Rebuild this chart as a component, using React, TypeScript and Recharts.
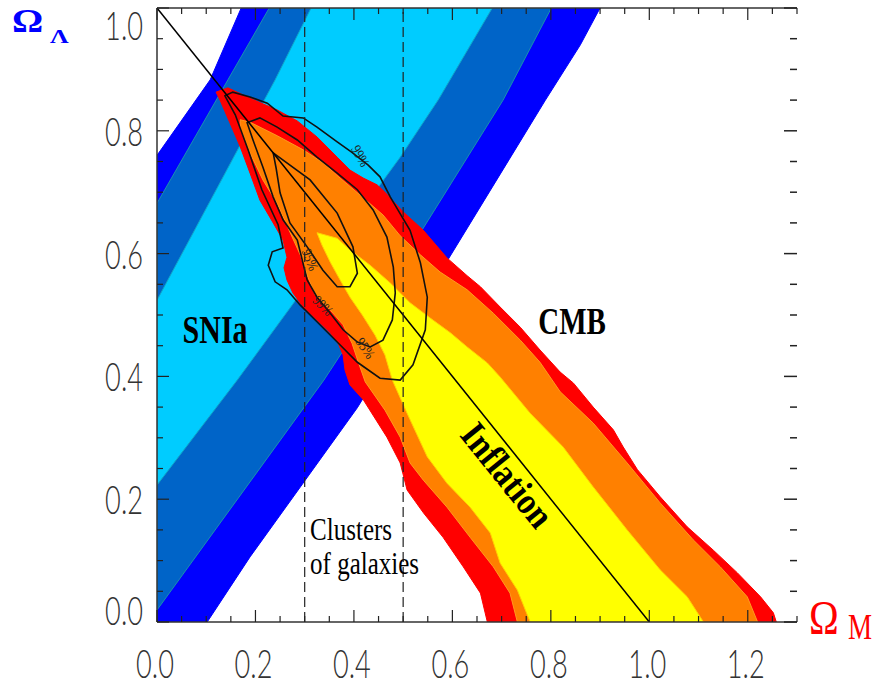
import React from 'react';
import { ScatterChart, Scatter, XAxis, YAxis } from 'recharts';

type P = [number, number];

// ---- SNIa confidence bands (Omega_M, Omega_Lambda) ----
const sniaOuter: P[] = [
  [0.171, 1.0], [0.108, 0.883], [0, 0.76], [0, 0], [0.102, 0], [0.189, 0.106],
  [0.407, 0.349], [0.591, 0.59], [0.789, 0.85], [0.86, 0.94], [0.9, 1.0],
];
const sniaMiddle: P[] = [
  [0.228, 1.0], [0.144, 0.883], [0, 0.682], [0, 0.0195], [0.339, 0.394],
  [0.535, 0.634], [0.703, 0.85], [0.801, 1.0],
];
const sniaInner: P[] = [
  [0.313, 1.0], [0.24, 0.883], [0, 0.524], [0, 0.223], [0.163, 0.394],
  [0.494, 0.757], [0.571, 0.85], [0.681, 1.0],
];

// ---- CMB confidence regions ----
const cmbOuter: P[] = [
  [0.12, 0.863], [0.144, 0.87], [0.189, 0.853], [0.244, 0.834], [0.285, 0.816],
  [0.325, 0.79], [0.366, 0.757], [0.392, 0.736], [0.419, 0.723], [0.447, 0.712],
  [0.463, 0.7], [0.5, 0.668], [0.541, 0.638], [0.589, 0.593], [0.63, 0.564],
  [0.657, 0.546], [0.697, 0.513], [0.738, 0.48], [0.778, 0.443], [0.819, 0.407],
  [0.846, 0.389], [0.886, 0.35], [0.927, 0.313], [0.947, 0.285], [0.976, 0.248],
  [1.022, 0.204], [1.077, 0.155], [1.13, 0.117], [1.179, 0.08], [1.226, 0.041],
  [1.252, 0.015], [1.258, 0], [0.671, 0], [0.657, 0.047], [0.622, 0.09],
  [0.581, 0.138], [0.541, 0.178], [0.508, 0.215], [0.494, 0.259], [0.467, 0.301],
  [0.419, 0.362], [0.392, 0.386], [0.382, 0.41], [0.378, 0.435], [0.368, 0.454],
  [0.352, 0.471], [0.325, 0.492], [0.297, 0.513], [0.276, 0.536], [0.264, 0.557],
  [0.258, 0.577], [0.264, 0.594], [0.256, 0.622], [0.236, 0.65], [0.209, 0.687],
  [0.189, 0.731], [0.169, 0.774], [0.148, 0.813], [0.128, 0.85],
];
const cmbMiddle: P[] = [
  [0.169, 0.818], [0.189, 0.814], [0.244, 0.792], [0.297, 0.769], [0.337, 0.748],
  [0.372, 0.723], [0.413, 0.695], [0.459, 0.663], [0.494, 0.629], [0.535, 0.598],
  [0.575, 0.57], [0.63, 0.541], [0.683, 0.503], [0.738, 0.459], [0.778, 0.423],
  [0.819, 0.375], [0.886, 0.324], [0.955, 0.259], [1.022, 0.194], [1.089, 0.134],
  [1.144, 0.09], [1.199, 0.041], [1.22, 0], [0.732, 0], [0.717, 0.047],
  [0.683, 0.09], [0.636, 0.138], [0.589, 0.187], [0.541, 0.231], [0.514, 0.259],
  [0.494, 0.301], [0.463, 0.345], [0.423, 0.391], [0.409, 0.423], [0.396, 0.454],
  [0.378, 0.484], [0.352, 0.508], [0.321, 0.533], [0.305, 0.565], [0.291, 0.598],
  [0.27, 0.635], [0.244, 0.682], [0.215, 0.72], [0.189, 0.764], [0.169, 0.805],
];
const cmbInner: P[] = [
  [0.325, 0.634], [0.366, 0.625], [0.392, 0.606], [0.433, 0.581], [0.474, 0.552],
  [0.514, 0.52], [0.555, 0.495], [0.596, 0.471], [0.63, 0.448], [0.671, 0.422],
  [0.697, 0.399], [0.758, 0.34], [0.825, 0.285], [0.886, 0.22], [0.955, 0.15],
  [1.022, 0.085], [1.077, 0.041], [1.11, 0], [0.758, 0], [0.732, 0.052],
  [0.697, 0.096], [0.677, 0.145], [0.636, 0.187], [0.589, 0.226], [0.549, 0.269],
  [0.508, 0.34], [0.478, 0.394], [0.463, 0.435], [0.443, 0.467], [0.417, 0.5],
  [0.392, 0.529], [0.372, 0.557], [0.352, 0.586], [0.335, 0.614],
];

// ---- combined-likelihood contours ----
const contour99: P[] = [
  [0.138, 0.857], [0.154, 0.863], [0.189, 0.855], [0.224, 0.845], [0.256, 0.824],
  [0.297, 0.821], [0.325, 0.806], [0.366, 0.782], [0.396, 0.765], [0.429, 0.744],
  [0.453, 0.725], [0.474, 0.692], [0.514, 0.638], [0.535, 0.585], [0.549, 0.529],
  [0.545, 0.476], [0.52, 0.419], [0.494, 0.394], [0.453, 0.397], [0.407, 0.423],
  [0.366, 0.456], [0.325, 0.489], [0.291, 0.516], [0.264, 0.541], [0.24, 0.554],
  [0.226, 0.581], [0.234, 0.603], [0.256, 0.609], [0.246, 0.647], [0.213, 0.704],
  [0.185, 0.769], [0.159, 0.826],
];
const contour95: P[] = [
  [0.183, 0.813], [0.209, 0.821], [0.244, 0.806], [0.285, 0.785], [0.325, 0.757],
  [0.366, 0.731], [0.407, 0.704], [0.439, 0.671], [0.467, 0.627], [0.48, 0.578],
  [0.484, 0.536], [0.478, 0.492], [0.459, 0.459], [0.433, 0.448], [0.407, 0.456],
  [0.378, 0.476], [0.352, 0.503], [0.325, 0.529], [0.305, 0.557], [0.285, 0.622],
  [0.256, 0.655], [0.236, 0.692], [0.215, 0.741], [0.195, 0.785],
];
const contour68: P[] = [
  [0.236, 0.764], [0.311, 0.72], [0.366, 0.666], [0.398, 0.611], [0.407, 0.568],
  [0.392, 0.546], [0.366, 0.546], [0.337, 0.573], [0.305, 0.611], [0.27, 0.65],
  [0.25, 0.699], [0.242, 0.739],
];

// ---- reference lines ----
const inflationLine: P[] = [[0, 1], [1, 0]];
const clusterLow: P[] = [[0.3, 0], [0.3, 1]];
const clusterHigh: P[] = [[0.5, 0], [0.5, 1]];

// ---- annotations ----
const annotations = [
  { id: 'snia', text: 'SNIa', x: 0.118, y: 0.476 },
  { id: 'cmb', text: 'CMB', x: 0.843, y: 0.489 },
  { id: 'inflation', text: 'Inflation', x: 0.711, y: 0.239 },
  { id: 'clusters1', text: 'Clusters', x: 0.311, y: 0.134 },
  { id: 'clusters2', text: 'of galaxies', x: 0.311, y: 0.078 },
  { id: 'c99a', text: '99%', x: 0.413, y: 0.759 },
  { id: 'c95a', text: '95%', x: 0.311, y: 0.59 },
  { id: 'c99b', text: '99%', x: 0.337, y: 0.515 },
  { id: 'c95b', text: '95%', x: 0.423, y: 0.446 },
];

// ---- ticks ----
const xTicks = [0, 0.05, 0.1, 0.15, 0.2, 0.25, 0.3, 0.35, 0.4, 0.45, 0.5, 0.55, 0.6, 0.65, 0.7,
  0.75, 0.8, 0.85, 0.9, 0.95, 1.0, 1.05, 1.1, 1.15, 1.2, 1.25, 1.3];
const xMajor = [0, 0.2, 0.4, 0.6, 0.8, 1.0, 1.2];
const xMajorLabels = ['0.0', '0.2', '0.4', '0.6', '0.8', '1.0', '1.2'];
const yTicks = [0, 0.05, 0.1, 0.15, 0.2, 0.25, 0.3, 0.35, 0.4, 0.45, 0.5, 0.55, 0.6, 0.65, 0.7,
  0.75, 0.8, 0.85, 0.9, 0.95, 1.0];
const yMajor = [0, 0.2, 0.4, 0.6, 0.8, 1.0];
const yMajorLabels = ['0.0', '0.2', '0.4', '0.6', '0.8', '1.0'];

const COLORS = {
  snOuter: '#0000ff', snMiddle: '#0064c8', snInner: '#00ccff',
  red: '#ff0000', orange: '#ff8000', yellow: '#ffff00',
};

const SERIF = "'Liberation Serif', 'Times New Roman', serif";
const THIN = "Lato, Roboto, 'DejaVu Sans', sans-serif";

const annStyle: Record<string, { size: number; weight: string; rotate: number; sy: number; anchor: string; dy: string; fill: string }> = {
  snia: { size: 30, weight: 'bold', rotate: 0, sy: 1.3, anchor: 'middle', dy: '0.33em', fill: '#000' },
  cmb: { size: 29, weight: 'bold', rotate: 0, sy: 1.3, anchor: 'middle', dy: '0.33em', fill: '#000' },
  inflation: { size: 33, weight: 'bold', rotate: 51, sy: 1.15, anchor: 'middle', dy: '0.33em', fill: '#000' },
  clusters1: { size: 25, weight: 'normal', rotate: 0, sy: 1.3, anchor: 'start', dy: '0', fill: '#000' },
  clusters2: { size: 25, weight: 'normal', rotate: 0, sy: 1.3, anchor: 'start', dy: '0', fill: '#000' },
  c99a: { size: 12, weight: 'normal', rotate: 60, sy: 1.2, anchor: 'middle', dy: '0.33em', fill: '#222' },
  c95a: { size: 12, weight: 'normal', rotate: 68, sy: 1.2, anchor: 'middle', dy: '0.33em', fill: '#222' },
  c99b: { size: 12, weight: 'normal', rotate: 45, sy: 1.2, anchor: 'middle', dy: '0.33em', fill: '#222' },
  c95b: { size: 12, weight: 'normal', rotate: 55, sy: 1.2, anchor: 'middle', dy: '0.33em', fill: '#222' },
};

const toXY = (pts: P[]) => pts.map(([x, y]) => ({ x, y }));
const majorIndex = (v: number, majors: number[]) => majors.findIndex((m) => Math.abs(m - v) < 1e-6);

const NoDot = () => <g />;

const AnnShape = (props: any) => {
  const { cx, cy, payload } = props;
  const s = annStyle[payload.id];
  return (
    <text
      transform={`translate(${cx},${cy}) rotate(${s.rotate}) scale(1,${s.sy})`}
      textAnchor={s.anchor as any}
      dy={s.dy}
      fontFamily={SERIF}
      fontSize={s.size}
      fontWeight={s.weight as any}
      fill={s.fill}
    >
      {payload.text}
    </text>
  );
};

const TICK_COLOR = '#222';
const LABEL_COLOR = '#333';

const TickLabel = ({ x, y, anchor, children }: any) => (
  <text
    transform={`translate(${x},${y}) scale(0.68,1)`}
    textAnchor={anchor}
    fontFamily={THIN}
    fontWeight={300}
    fontSize={40}
    fill={LABEL_COLOR}
  >
    {children}
  </text>
);

const BottomTick = (p: any) => {
  const { x, y, payload } = p;
  const i = majorIndex(payload.value, xMajor);
  const len = i >= 0 ? 12 : 6;
  return (
    <g>
      <line x1={x} x2={x} y1={y} y2={y - len} stroke={TICK_COLOR} strokeWidth={1.2} />
      {i >= 0 && <TickLabel x={x - 2} y={y + 56} anchor="middle">{xMajorLabels[i]}</TickLabel>}
    </g>
  );
};

const TopTick = (p: any) => {
  const { x, y, payload } = p;
  const i = majorIndex(payload.value, xMajor);
  const len = i >= 0 ? 12 : 6;
  return <line x1={x} x2={x} y1={y} y2={y + len} stroke={TICK_COLOR} strokeWidth={1.2} />;
};

const LeftTick = (p: any) => {
  const { x, y, payload } = p;
  const i = majorIndex(payload.value, yMajor);
  const len = i >= 0 ? 12 : 6;
  const shift = payload.value >= 0.999 ? 17 : payload.value <= 0.001 ? -12 : 0;
  return (
    <g>
      <line x1={x} x2={x + len} y1={y} y2={y} stroke={TICK_COLOR} strokeWidth={1.2} />
      {i >= 0 && <TickLabel x={x - 14} y={y + shift + 15} anchor="end">{yMajorLabels[i]}</TickLabel>}
    </g>
  );
};

const RightTick = (p: any) => {
  const { x, y, payload } = p;
  const i = majorIndex(payload.value, yMajor);
  const len = i >= 0 ? 13 : 7;
  return <line x1={x} x2={x - len} y1={y} y2={y} stroke={TICK_COLOR} strokeWidth={1.5} />;
};

const XTitle = (props: any) => {
  const vb = props.viewBox || { x: 157, y: 622, width: 640 };
  const x0 = vb.x + vb.width;
  const by = vb.y;
  return (
    <g>
      <text transform={`translate(${x0 + 12},${by + 12}) scale(1,1.2)`} fontFamily={SERIF} fontSize={40} fill="#ff0000">Ω</text>
      <text transform={`translate(${x0 + 51},${by + 17}) scale(1,1.3)`} fontFamily={SERIF} fontSize={27} fill="#ff0000">M</text>
    </g>
  );
};

const YTitle = (props: any) => {
  const vb = props.viewBox || { x: 156, y: 8 };
  const x0 = vb.x + (vb.width || 0);
  return (
    <g>
      <text transform={`translate(${x0 - 145},${vb.y + 24}) scale(1,0.88)`} fontFamily={SERIF} fontSize={39} fontWeight="bold" fill="#0000ff">Ω</text>
      <text transform={`translate(${x0 - 107},${vb.y + 35}) scale(1,0.75)`} fontFamily={SERIF} fontSize={26} fontWeight="bold" fill="#0000ff">Λ</text>
    </g>
  );
};

function region(key: string, pts: P[], fill: string, edge?: string) {
  return (
    <Scatter
      key={key}
      name={key}
      data={toXY(pts)}
      fill={fill}
      line={{ fill, stroke: edge || fill, strokeWidth: 1 }}
      lineType="joint"
      lineJointType="linearClosed"
      shape={NoDot}
      isAnimationActive={false}
    />
  );
}

function path(key: string, pts: P[], closed: boolean, stroke: string, width: number, dash?: string) {
  return (
    <Scatter
      key={key}
      name={key}
      data={toXY(pts)}
      fill={stroke}
      line={{ fill: 'none', stroke, strokeWidth: width, strokeDasharray: dash }}
      lineType="joint"
      lineJointType={closed ? 'linearClosed' : 'linear'}
      shape={NoDot}
      isAnimationActive={false}
    />
  );
}

export default function App() {
  return (
    <div style={{ position: 'absolute', left: 0, top: 0, width: 873, height: 690, background: '#fff' }}>
      <ScatterChart width={873} height={690} margin={{ top: 7, right: 75, bottom: 67, left: 156 }}>
        {region('snia-outer', sniaOuter, COLORS.snOuter)}
        {region('snia-middle', sniaMiddle, COLORS.snMiddle, '#1a8fb0')}
        {region('snia-inner', sniaInner, COLORS.snInner, '#10a6c8')}
        {region('cmb-outer', cmbOuter, COLORS.red)}
        {region('cmb-middle', cmbMiddle, COLORS.orange, '#ff9a20')}
        {region('cmb-inner', cmbInner, COLORS.yellow, '#ffd000')}
        {path('c99', contour99, true, '#111', 1.6)}
        {path('c95', contour95, true, '#111', 1.6)}
        {path('c68', contour68, true, '#111', 1.6)}
        {path('inflation', inflationLine, false, '#000', 1.5)}
        {path('cluster-low', clusterLow, false, '#222', 1.2, '10 5')}
        {path('cluster-high', clusterHigh, false, '#222', 1.2, '10 5')}

        <Scatter
          name="annotations"
          data={annotations}
          fill="#000"
          shape={AnnShape}
          isAnimationActive={false}
        />

        <XAxis
          type="number" dataKey="x" domain={[0, 1.3]} allowDataOverflow ticks={xTicks} interval={0}
          height={1} tickSize={0} tickMargin={0} tick={<BottomTick />}
          axisLine={{ stroke: '#333', strokeWidth: 1.5 }} tickLine={false}
          label={<XTitle />}
          {...({ zIndex: 900 } as any)}
        />
        <XAxis
          xAxisId="top" orientation="top" type="number" dataKey="x" domain={[0, 1.3]} allowDataOverflow
          ticks={xTicks} interval={0} height={1} tickSize={0} tickMargin={0} tick={<TopTick />}
          axisLine={{ stroke: '#333', strokeWidth: 1.5 }} tickLine={false}
          {...({ zIndex: 900 } as any)}
        />
        <YAxis
          type="number" dataKey="y" domain={[0, 1]} allowDataOverflow ticks={yTicks} interval={0}
          width={1} tickSize={0} tickMargin={0} tick={<LeftTick />}
          axisLine={{ stroke: '#333', strokeWidth: 1.5 }} tickLine={false}
          label={<YTitle />}
          {...({ zIndex: 900 } as any)}
        />
        <YAxis
          yAxisId="right" orientation="right" type="number" dataKey="y" domain={[0, 1]} allowDataOverflow
          ticks={yTicks} interval={0} width={1} tickSize={0} tickMargin={0} tick={<RightTick />}
          axisLine={false} tickLine={false}
          {...({ zIndex: 900 } as any)}
        />
      </ScatterChart>
    </div>
  );
}
